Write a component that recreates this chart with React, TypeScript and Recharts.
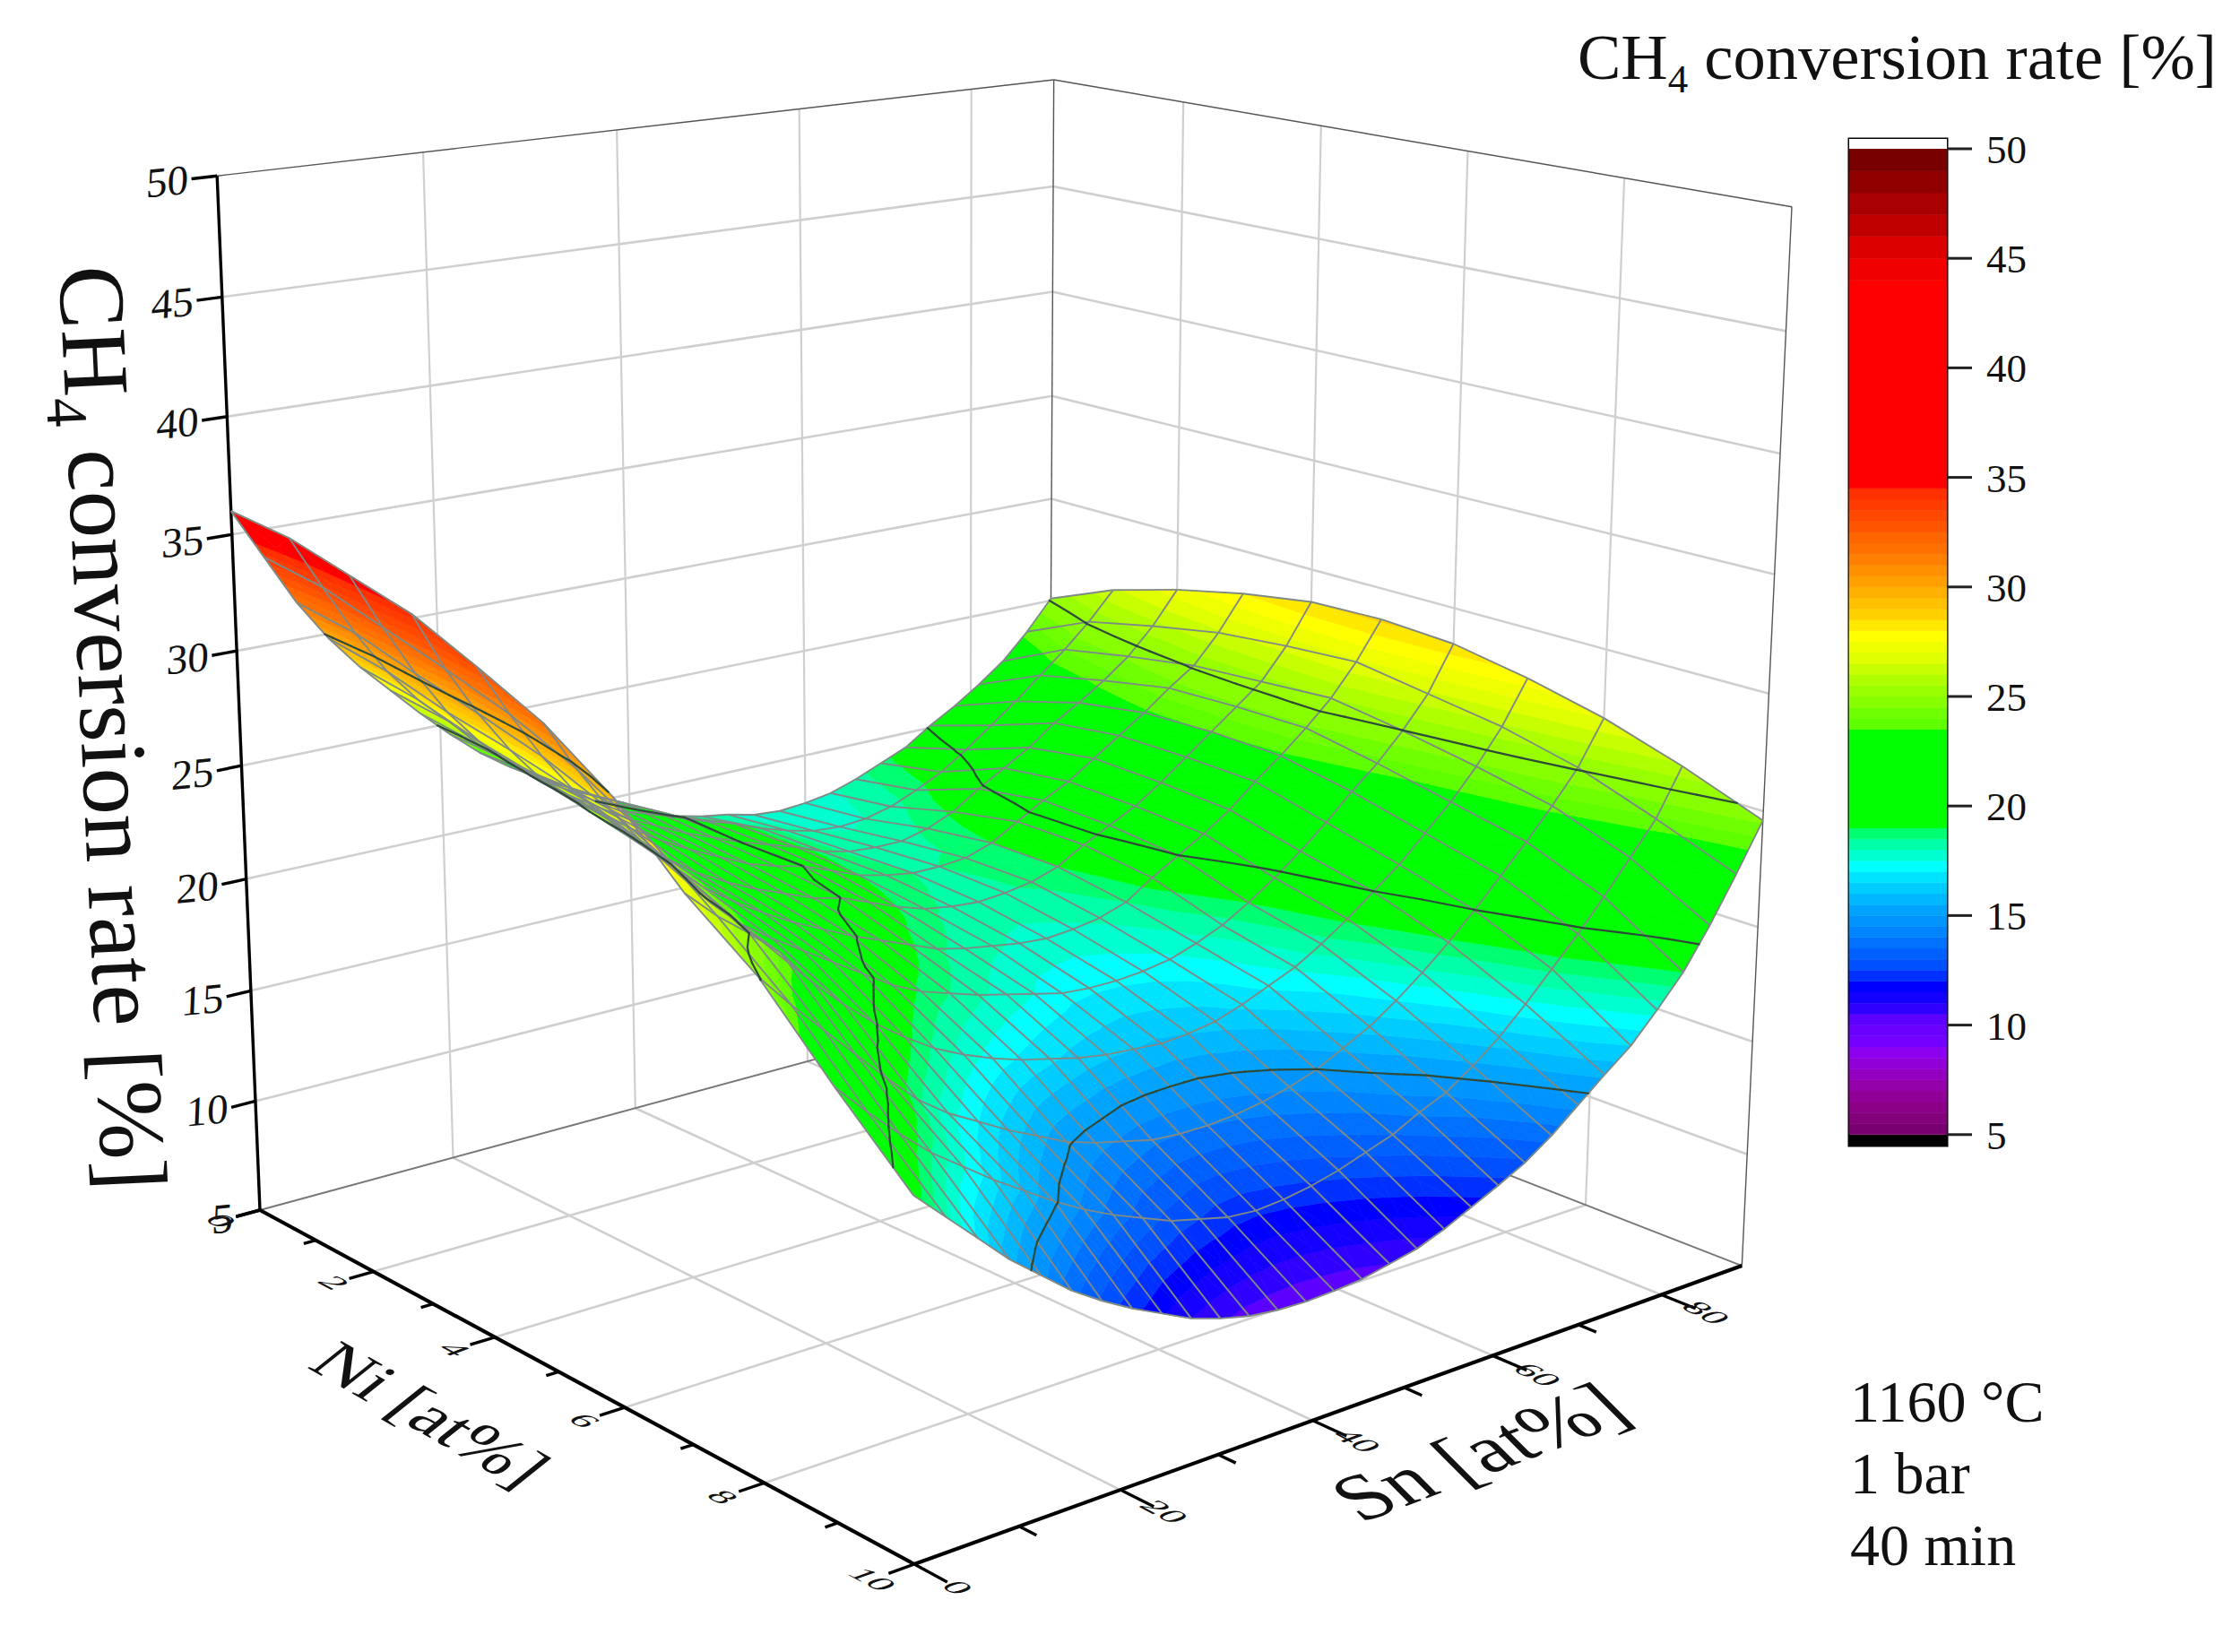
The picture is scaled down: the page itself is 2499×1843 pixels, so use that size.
import { Bar, BarChart, ReferenceArea, Scatter, ScatterChart, XAxis, YAxis } from "recharts";

const W = 2499;
const H = 1843;
const serif = "'Liberation Serif', 'Times New Roman', serif";

const niValues = [0, 1, 2, 3, 4, 5, 6, 7, 8, 9, 10];
const snValues = [0, 3, 6, 9, 12, 15, 18, 21, 24, 27, 30, 33, 36, 39, 42, 45, 48, 51, 54, 57, 60, 63, 66, 69, 72, 75, 78, 81, 84, 87, 90];

// CH4 conversion, one row per Ni value
const rateNi0 = [36.0, 33.8, 31.6, 29.8, 28.3, 27.0, 25.7, 24.5, 23.4, 22.5, 21.7, 20.9, 20.1, 19.3, 18.9, 18.5, 18.2, 18.0, 17.7, 17.6, 17.7, 17.9, 18.3, 18.8, 19.3, 20.1, 20.8, 21.6, 22.5, 23.7, 25.1];
const rateNi1 = [35.7, 33.4, 31.2, 29.3, 27.8, 26.6, 25.3, 24.3, 23.4, 22.6, 21.9, 21.3, 20.7, 20.1, 19.6, 19.2, 18.7, 18.3, 18.0, 17.9, 18.0, 18.3, 18.8, 19.4, 20.2, 21.1, 22.0, 23.0, 24.0, 25.1, 26.4];
const rateNi2 = [35.0, 32.6, 30.4, 28.5, 27.0, 25.8, 24.7, 23.8, 23.0, 22.2, 21.6, 21.0, 20.5, 20.0, 19.6, 19.2, 18.7, 18.4, 18.3, 18.3, 18.6, 19.1, 19.9, 20.6, 21.3, 22.2, 22.9, 23.7, 24.6, 25.8, 27.3];
const rateNi3 = [34.3, 31.8, 29.7, 27.9, 26.4, 25.2, 24.3, 23.4, 22.6, 21.9, 21.3, 20.7, 20.3, 20.0, 19.5, 19.0, 18.7, 18.5, 18.5, 18.6, 19.0, 19.7, 20.4, 21.0, 21.8, 22.6, 23.4, 24.3, 25.1, 26.4, 28.0];
const rateNi4 = [33.1, 30.9, 28.9, 27.2, 25.8, 24.5, 23.5, 22.6, 21.9, 21.3, 20.8, 20.3, 20.0, 19.5, 19.0, 18.6, 18.4, 18.3, 18.4, 18.6, 19.0, 19.7, 20.3, 20.9, 21.7, 22.6, 23.5, 24.4, 25.3, 26.7, 28.5];
const rateNi5 = [31.8, 29.7, 27.8, 26.2, 24.9, 23.7, 22.8, 22.0, 21.3, 20.7, 20.1, 19.6, 19.1, 18.6, 18.3, 18.1, 17.9, 17.8, 17.9, 18.1, 18.5, 19.3, 20.0, 20.7, 21.5, 22.5, 23.4, 24.4, 25.5, 26.9, 28.6];
const rateNi6 = [29.9, 28.1, 26.4, 24.8, 23.6, 22.7, 21.9, 21.1, 20.3, 19.5, 18.9, 18.5, 18.1, 17.8, 17.5, 17.2, 17.1, 17.1, 17.2, 17.4, 17.8, 18.3, 19.0, 19.8, 20.7, 21.7, 22.8, 23.8, 25.0, 26.4, 28.4];
const rateNi7 = [27.2, 26.0, 25.0, 23.9, 22.4, 21.2, 20.1, 19.2, 18.4, 17.8, 17.3, 16.9, 16.6, 16.3, 16.1, 16.0, 15.9, 16.0, 16.2, 16.6, 17.1, 17.6, 18.3, 19.1, 20.0, 20.9, 22.0, 23.1, 24.4, 25.9, 27.8];
const rateNi8 = [25.1, 23.7, 22.4, 21.1, 19.8, 18.6, 17.7, 17.0, 16.3, 15.7, 15.1, 14.7, 14.4, 14.1, 14.0, 14.0, 14.1, 14.3, 14.6, 15.0, 15.6, 16.2, 17.0, 17.9, 18.9, 20.0, 21.2, 22.4, 23.7, 25.1, 27.0];
const rateNi9 = [22.1, 20.8, 19.6, 18.5, 17.6, 16.7, 15.9, 15.1, 14.4, 13.8, 13.3, 12.8, 12.5, 12.2, 12.1, 12.2, 12.4, 12.7, 13.1, 13.5, 14.1, 14.6, 15.4, 16.3, 17.4, 18.6, 19.8, 21.1, 22.5, 23.9, 25.9];
const rateNi10 = [19.3, 18.1, 16.9, 15.7, 14.7, 13.7, 12.9, 12.2, 11.6, 11.0, 10.6, 10.3, 10.15, 10.1, 10.15, 10.25, 10.5, 10.75, 11.2, 11.75, 12.3, 12.9, 13.7, 14.65, 15.6, 16.5, 17.7, 19.0, 20.7, 22.6, 24.6];
const rates = [rateNi0, rateNi1, rateNi2, rateNi3, rateNi4, rateNi5, rateNi6, rateNi7, rateNi8, rateNi9, rateNi10];

// colour scale: lower edge of each band and its colour
const bandFloors = [5, 5.5, 6, 6.5, 7, 7.5, 8, 8.5, 9, 9.5, 10, 10.5, 11, 11.5, 12, 12.5, 13, 13.5, 14, 14.5, 15, 15.5, 16, 16.5, 17, 17.5, 18, 18.5, 19, 23.5, 24, 24.5, 25, 25.5, 26, 26.5, 27, 27.5, 28, 28.5, 29, 29.5, 30, 30.5, 31, 31.5, 32, 32.5, 33, 33.5, 34, 34.5, 44, 45, 46, 47, 48, 49];
const bandColors = ["#780070", "#82007a", "#8c0088", "#900096", "#9400aa", "#9400c0", "#9200d8", "#8c00f0", "#7400ff", "#6a00ff", "#5c00ff", "#3000ff", "#1400ff", "#0000ff", "#0030ff", "#0050ff", "#0060ff", "#0070ff", "#0084ff", "#0094ff", "#00a4ff", "#00b8ff", "#00ccff", "#00e4ff", "#00ffff", "#00ffd0", "#00ffa8", "#00ff70", "#00ff00", "#60ff00", "#70ff00", "#88ff00", "#98ff00", "#b0ff00", "#c8ff00", "#e0ff00", "#f0ff00", "#ffff00", "#ffe800", "#ffd000", "#ffc000", "#ffb000", "#ffa000", "#ff9000", "#ff8000", "#ff7000", "#ff6600", "#ff5500", "#ff4800", "#ff3c00", "#ff3000", "#ff0000", "#f00000", "#dd0000", "#c00000", "#a80000", "#900000", "#780000"];

const contourLevels = [15, 20, 25, 30];
const rateTicks = [5, 10, 15, 20, 25, 30, 35, 40, 45, 50];
const niGrid = [2, 4, 6, 8];
const snGrid = [20, 40, 60, 80];
const niTickLabels = [0, 2, 4, 6, 8, 10];
const snTickLabels = [0, 20, 40, 60, 80];
const niMinor = [1, 3, 5, 7, 9];
const snMinor = [10, 30, 50, 70];

type P3 = [number, number, number];

// view of the box: floor corners, the point the verticals run to, depth weights
const cornerA = [290, 1350];
const cornerB = [1020, 1745];
const cornerD = [1170, 1111];
const vanish = [1065, 20055];
const wB = 0.84;
const wD = 1.135;
const wZ = 0.0581;

function depth(ni: number, sn: number, z: number) {
  return 1 + (ni / 10) * (wB - 1) + (sn / 90) * (wD - 1) - wZ * ((z - 5) / 45);
}

function project(ni: number, sn: number, z: number): [number, number] {
  const s = ni / 10;
  const t = sn / 90;
  const u = wZ * ((z - 5) / 45);
  const w = depth(ni, sn, z);
  const hx = cornerA[0] + s * (wB * cornerB[0] - cornerA[0]) + t * (wD * cornerD[0] - cornerA[0]) - u * vanish[0];
  const hy = cornerA[1] + s * (wB * cornerB[1] - cornerA[1]) + t * (wD * cornerD[1] - cornerA[1]) - u * vanish[1];
  return [hx / w, hy / w];
}

function line(a: P3, b: P3, stroke: string, width: number) {
  const [ax, ay] = project(a[0], a[1], a[2]);
  const [bx, by] = project(b[0], b[1], b[2]);
  return { pts: [{ x: ax, y: ay }, { x: bx, y: by }], stroke, width };
}

const GRID = "#cfcfcf";
const EDGE = "#555555";
const guideLines = [
  ...rateTicks.slice(1, -1).flatMap((z) => [line([0, 0, z], [0, 90, z], GRID, 2.6), line([0, 90, z], [10, 90, z], GRID, 2.6)]),
  ...snGrid.flatMap((sn) => [line([0, sn, 5], [0, sn, 50], GRID, 2.2), line([0, sn, 5], [10, sn, 5], GRID, 2.6)]),
  ...niGrid.flatMap((ni) => [line([ni, 90, 5], [ni, 90, 50], GRID, 2.2), line([ni, 0, 5], [ni, 90, 5], GRID, 2.6)]),
  line([0, 0, 50], [0, 90, 50], EDGE, 1.4),
  line([0, 90, 50], [10, 90, 50], EDGE, 1.4),
  line([10, 90, 50], [10, 90, 5], EDGE, 1.4),
  line([0, 90, 50], [0, 90, 5], EDGE, 1.4),
  line([0, 0, 5], [0, 90, 5], "#777777", 2),
  line([0, 90, 5], [10, 90, 5], "#777777", 2),
];

const axisLines = [
  line([0, 0, 5], [0, 0, 50], "#000", 3.4),
  line([0, 0, 5], [10, 0, 5], "#000", 4.2),
  line([10, 0, 5], [10, 90, 5], "#000", 4.2),
  ...rateTicks.map((z) => line([0, 0, z], [0, -2.4, z], "#000", 3.4)),
  ...niTickLabels.map((ni) => line([ni, 0, 5], [ni, -2.4, 5], "#000", 3.4)),
  ...niMinor.map((ni) => line([ni, 0, 5], [ni, -1.2, 5], "#000", 3.4)),
  ...snTickLabels.map((sn) => line([10, sn, 5], [10.42, sn, 5], "#000", 3.4)),
  ...snMinor.map((sn) => line([10, sn, 5], [10.22, sn, 5], "#000", 3.4)),
];

function clipZ(poly: P3[], level: number, keepAbove: boolean): P3[] {
  const out: P3[] = [];
  for (let i = 0; i < poly.length; i++) {
    const a = poly[i];
    const b = poly[(i + 1) % poly.length];
    const aIn = keepAbove ? a[2] >= level : a[2] <= level;
    const bIn = keepAbove ? b[2] >= level : b[2] <= level;
    if (aIn) out.push(a);
    if (aIn !== bIn) {
      const k = (level - a[2]) / (b[2] - a[2]);
      out.push([a[0] + k * (b[0] - a[0]), a[1] + k * (b[1] - a[1]), level]);
    }
  }
  return out;
}

function buildCells() {
  const cells: any[] = [];
  for (let i = 0; i < niValues.length - 1; i++) {
    for (let j = 0; j < snValues.length - 1; j++) {
      const c: P3[] = [
        [niValues[i], snValues[j], rates[i][j]],
        [niValues[i + 1], snValues[j], rates[i + 1][j]],
        [niValues[i + 1], snValues[j + 1], rates[i + 1][j + 1]],
        [niValues[i], snValues[j + 1], rates[i][j + 1]],
      ];
      const mid: P3 = [0, 1, 2].map((k) => (c[0][k] + c[1][k] + c[2][k] + c[3][k]) / 4) as P3;
      const [x, y] = project(mid[0], mid[1], mid[2]);
      const rel = (p: P3) => {
        const [px, py] = project(p[0], p[1], p[2]);
        return [px - x, py - y];
      };
      const fills: { pts: number[][]; color: string }[] = [];
      const contours: number[][][] = [];
      for (let e = 0; e < 4; e++) {
        const tri: P3[] = [c[e], c[(e + 1) % 4], mid];
        const zs = tri.map((p) => p[2]);
        const lo = Math.min(...zs);
        const hi = Math.max(...zs);
        bandFloors.forEach((floor, b) => {
          const top = b + 1 < bandFloors.length ? bandFloors[b + 1] : 50;
          if (top <= lo || floor >= hi) return;
          const piece = clipZ(clipZ(tri, floor, true), top, false);
          if (piece.length > 2) fills.push({ pts: piece.map(rel), color: bandColors[b] });
        });
        contourLevels.forEach((contour) => {
          // nudged so a table value sitting exactly on the level still gets cut
          const level = contour + 0.013;
          if (level <= lo || level >= hi) return;
          const cut = clipZ(tri, level, true).filter((p) => p[2] === level);
          if (cut.length === 2) contours.push(cut.map(rel));
        });
      }
      const edges: number[][][] = [[rel(c[0]), rel(c[1])], [rel(c[0]), rel(c[3])]];
      if (i === niValues.length - 2) edges.push([rel(c[1]), rel(c[2])]);
      if (j === snValues.length - 2) edges.push([rel(c[3]), rel(c[2])]);
      cells.push({ x, y, far: depth(mid[0], mid[1], mid[2]), fills, contours, edges });
    }
  }
  return cells.sort((a, b) => b.far - a.far);
}

const surfaceCells = buildCells();

const pointsAt = (pts: number[][], cx: number, cy: number) => pts.map((p) => `${cx + p[0]},${cy + p[1]}`).join(" ");

function FillShape({ cx, cy, payload }: any) {
  return (
    <g>
      {payload.fills.map((f: any, i: number) => (
        <polygon key={i} points={pointsAt(f.pts, cx, cy)} fill={f.color} stroke={f.color} strokeWidth={0.7} />
      ))}
    </g>
  );
}

function MeshShape({ cx, cy, payload }: any) {
  return (
    <g>
      {payload.edges.map((e: number[][], i: number) => (
        <polyline key={i} points={pointsAt(e, cx, cy)} fill="none" stroke="#7f8a86" strokeWidth={1.9} />
      ))}
    </g>
  );
}

function ContourShape({ cx, cy, payload }: any) {
  return (
    <g>
      {payload.contours.map((e: number[][], i: number) => (
        <polyline key={i} points={pointsAt(e, cx, cy)} fill="none" stroke="#2f4a3a" strokeWidth={2.2} strokeLinecap="round" />
      ))}
    </g>
  );
}

const floorMatrix = [0.88, 0.47, -0.94 * 0.78, 0.34 * 0.78];
const snTitleMatrix = [0.94, -0.36, 0.68, 0.68];
const niTitleMatrix = [0.84, 0.48, -0.7, 0.56];

function at3(ni: number, sn: number, z: number) {
  const [x, y] = project(ni, sn, z);
  return { x, y };
}

const textLabels = [
  ...rateTicks.map((z) => ({ ...at3(0, -2.7, z), text: String(z), size: 47, anchor: "end", m: [1, -0.1, -0.04, 1] })),
  ...niTickLabels.map((ni) => ({ ...at3(ni, -3.9, 5), text: String(ni), size: 44, anchor: "middle", m: floorMatrix })),
  ...snTickLabels.map((sn) => ({ ...at3(10.55, sn, 5), text: String(sn), size: 44, anchor: "middle", m: floorMatrix })),
  { x: 480, y: 1578, text: "Ni [at%]", size: 82, anchor: "middle", m: niTitleMatrix },
  { x: 1650, y: 1620, text: "Sn [at%]", size: 92, anchor: "middle", m: snTitleMatrix },
  { x: 2064, y: 1586, text: "1160 °C", size: 66, anchor: "start", m: [1, 0, 0, 1] },
  { x: 2064, y: 1666, text: "1 bar", size: 66, anchor: "start", m: [1, 0, 0, 1] },
  { x: 2064, y: 1746, text: "40 min", size: 66, anchor: "start", m: [1, 0, 0, 1] },
];

function LabelShape(props: any) {
  const { cx, cy, payload } = props;
  const [a, b, c, d] = payload.m;
  const central = payload.anchor !== "start";
  return (
    <text
      transform={`translate(${cx} ${cy}) matrix(${a} ${b} ${c} ${d} 0 0)`}
      textAnchor={payload.anchor}
      dominantBaseline={central ? "central" : undefined}
      fontFamily={serif}
      fontSize={payload.size}
      fill="#111"
    >
      {payload.text}
    </text>
  );
}

// title with the subscript in CH4; used twice, along the z axis and over the colour scale
function TitleShape(props: any) {
  const { cx, cy, payload } = props;
  return (
    <text transform={`translate(${cx} ${cy}) rotate(${payload.angle})`} fontFamily={serif} fontSize={payload.size} fill="#111">
      CH
      <tspan fontSize={payload.size * 0.62} dy={payload.size * 0.2}>4</tspan>
      <tspan dy={-payload.size * 0.2}> conversion rate [%]</tspan>
    </text>
  );
}

const sideTitle = [{ x: 66, y: 298, size: 105, angle: 87.3 }];
const topTitle = [{ x: 1760, y: 88, size: 72.5, angle: 0 }];

const noDot = () => <g />;

const scaleRow: Record<string, number | string> = { name: "scale", base: 4.5, under: 0.5, cap: 0.45 };
bandFloors.forEach((floor, i) => {
  scaleRow[`band${i}`] = (i + 1 < bandFloors.length ? bandFloors[i + 1] : 50) - floor;
});

export default function App() {
  return (
    <div style={{ position: "absolute", left: 0, top: 0, width: W, height: H, background: "#fff" }}>
      <ScatterChart width={W} height={H} margin={{ top: 0, right: 0, bottom: 0, left: 0 }}>
        <XAxis type="number" dataKey="x" domain={[0, W]} hide />
        <YAxis type="number" dataKey="y" domain={[0, H]} reversed hide />
        {guideLines.map((l, i) => (
          <Scatter key={`g${i}`} data={l.pts} line={{ stroke: l.stroke, strokeWidth: l.width }} shape={noDot} isAnimationActive={false} />
        ))}
        {axisLines.map((l, i) => (
          <Scatter key={`a${i}`} data={l.pts} line={{ stroke: l.stroke, strokeWidth: l.width }} shape={noDot} isAnimationActive={false} />
        ))}
        <Scatter data={surfaceCells} shape={FillShape} isAnimationActive={false} />
        <Scatter data={surfaceCells} shape={MeshShape} isAnimationActive={false} />
        <Scatter data={surfaceCells} shape={ContourShape} isAnimationActive={false} />
        <Scatter data={textLabels} shape={LabelShape} isAnimationActive={false} />
        <Scatter data={sideTitle} shape={TitleShape} isAnimationActive={false} />
        <Scatter data={topTitle} shape={TitleShape} isAnimationActive={false} />
      </ScatterChart>
      <div style={{ position: "absolute", left: 2059, top: 125 }}>
        <BarChart width={440} height={1183} data={[scaleRow]} barCategoryGap={0} margin={{ top: 30, right: 0, bottom: 30, left: 4 }}>
          <XAxis dataKey="name" hide />
          <YAxis
            orientation="right"
            type="number"
            width={327}
            domain={[4.5, 50.45]}
            allowDataOverflow
            ticks={rateTicks}
            interval={0}
            axisLine={false}
            tickSize={28}
            tickMargin={16}
            tickLine={{ stroke: "#222", strokeWidth: 3 }}
            tick={{ fill: "#111", fontSize: 45, fontFamily: serif }}
          />
          <Bar dataKey="base" stackId="s" fill="none" isAnimationActive={false} />
          <Bar dataKey="under" stackId="s" fill="#000" isAnimationActive={false} />
          {bandFloors.map((_, i) => (
            <Bar key={i} dataKey={`band${i}`} stackId="s" fill={bandColors[i]} stroke={bandColors[i]} strokeWidth={0.6} isAnimationActive={false} />
          ))}
          <Bar dataKey="cap" stackId="s" fill="#fff" isAnimationActive={false} />
          <ReferenceArea y1={4.5} y2={50.45} fill="none" stroke="#000" strokeWidth={3} ifOverflow="visible" />
        </BarChart>
      </div>
    </div>
  );
}
